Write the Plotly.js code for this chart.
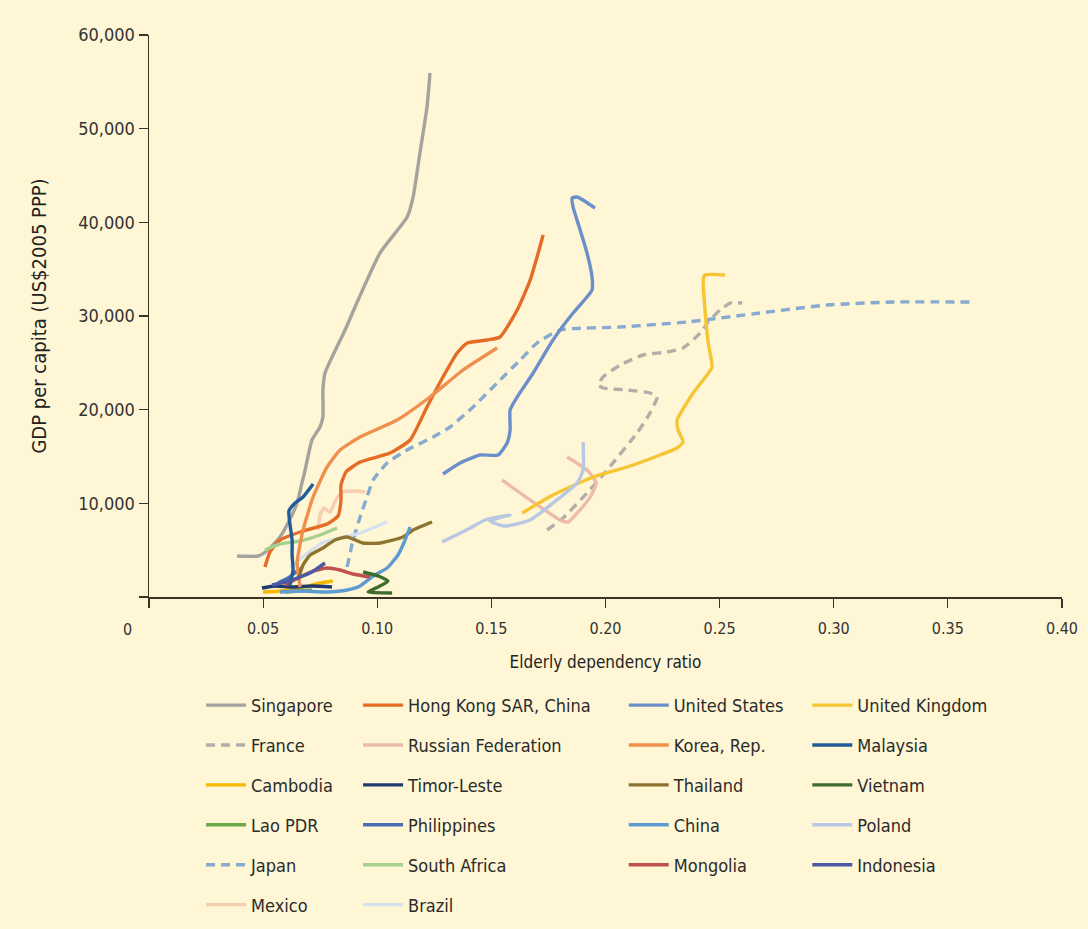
<!DOCTYPE html>
<html><head><meta charset="utf-8">
<script src="https://cdn.plot.ly/plotly-3.0.1.min.js"></script>
<style>html,body{margin:0;padding:0;background:#FEF6D4;}</style>
</head><body><div id="chart" style="width:1088px;height:929px;"></div>
<script>
// ---- data ----
const singaporeX = [0.0386,0.0478,0.0521,0.0574,0.0609,0.0649,0.0670,0.0684,0.0714,0.0749,0.0762,0.0762,0.0771,0.0802,0.0859,0.0916,0.1012,0.1131,0.1157,0.1187,0.1218,0.1231];
const singaporeY = [4377,4377,5018,6406,7900,10035,12171,13559,16761,18149,19217,22099,23914,25622,28505,31708,36725,40569,42704,47401,52312,55942];
const hongkongX = [0.0508,0.0530,0.0574,0.0675,0.0780,0.0828,0.0841,0.0841,0.0863,0.0925,0.1056,0.1144,0.1218,0.1288,0.1350,0.1394,0.1481,0.1538,0.1613,0.1670,0.1727];
const hongkongY = [3203,4804,6085,7046,7793,8648,10356,11957,13345,14413,15373,16761,20284,23487,26049,27117,27437,27758,30640,33843,38647];
const usX = [0.1288,0.1363,0.1450,0.1529,0.1569,0.1582,0.1582,0.1613,0.1683,0.1770,0.1858,0.1919,0.1941,0.1941,0.1919,0.1889,0.1858,0.1854,0.1876,0.1954];
const usY = [13131,14306,15160,15160,16441,17829,19964,21352,23914,27437,30320,32028,32775,34163,36725,39181,41636,42597,42704,41529];
const ukX = [0.1635,0.1770,0.1946,0.2095,0.2239,0.2314,0.2340,0.2318,0.2314,0.2384,0.2445,0.2467,0.2450,0.2436,0.2428,0.2436,0.2524];
const ukY = [8968,10890,12811,13879,15160,15907,16548,17829,18897,21779,23701,24555,27117,30640,33843,34377,34377];
const franceX = [0.1744,0.1814,0.1919,0.2007,0.2138,0.2195,0.2226,0.2195,0.2095,0.1989,0.1968,0.1989,0.2064,0.2165,0.2270,0.2340,0.2415,0.2450,0.2502,0.2546,0.2599];
const franceY = [7153,8434,11103,13559,17509,19644,21352,21779,22099,22313,22633,23487,24768,25836,26156,26583,28185,29359,30640,31387,31387];
const russiaX = [0.1547,0.1670,0.1801,0.1836,0.1880,0.1933,0.1959,0.1924,0.1832];
const russiaY = [12491,10356,8221,8007,9075,10676,12171,13452,14946];
const koreaX = [0.0662,0.0649,0.0675,0.0719,0.0780,0.0837,0.0925,0.1087,0.1231,0.1376,0.1525];
const koreaY = [1068,3630,7153,10676,13879,15694,17082,18897,21352,24235,26583];
const malaysiaX = [0.0618,0.0631,0.0627,0.0627,0.0618,0.0613,0.0640,0.0675,0.0719];
const malaysiaY = [1281,2883,4484,6085,7687,9181,10035,10676,12064];
const cambodiaX = [0.0500,0.0574,0.0662,0.0749,0.0806];
const cambodiaY = [534,641,961,1495,1708];
const timorX = [0.0495,0.0552,0.0627,0.0714,0.0802];
const timorY = [961,1174,1068,1174,1068];
const thailandX = [0.0653,0.0675,0.0706,0.0762,0.0815,0.0868,0.0938,0.1012,0.1113,0.1157,0.1240];
const thailandY = [1815,3416,4484,5231,6085,6406,5765,5765,6406,7153,8007];
const vietnamX = [0.1065,0.0960,0.1004,0.1047,0.1004,0.0938];
const vietnamY = [427,534,1068,1708,2242,2669];
const laoX = [0.0596,0.0662,0.0714];
const laoY = [534,641,747];
const philippinesX = [0.0565,0.0609,0.0644,0.0670];
const philippinesY = [1495,2028,2669,3096];
const chinaX = [0.0574,0.0662,0.0780,0.0868,0.0925,0.0982,0.1043,0.1091,0.1122,0.1144];
const chinaY = [534,641,534,747,1174,2242,3096,4484,6085,7473];
const polandX = [0.1284,0.1407,0.1472,0.1582,0.1494,0.1560,0.1670,0.1770,0.1876,0.1902,0.1902];
const polandY = [5872,7366,8221,8754,8114,7580,8221,10035,12171,13559,16548];
const japanX = [0.0868,0.0894,0.0925,0.0955,0.0982,0.1043,0.1131,0.1245,0.1319,0.1420,0.1525,0.1626,0.1700,0.1801,0.2064,0.2358,0.2677,0.2971,0.3260,0.3611];
const japanY = [3203,6085,8541,10676,12491,14306,15694,17082,18149,20284,22847,25302,27117,28505,28825,29359,30320,31174,31494,31494];
const southAfricaX = [0.0508,0.0574,0.0662,0.0749,0.0824];
const southAfricaY = [5018,5658,5979,6619,7366];
const mongoliaX = [0.0596,0.0662,0.0719,0.0780,0.0837,0.0894,0.0968];
const mongoliaY = [1281,2135,2776,3096,2883,2455,2135];
const indonesiaX = [0.0539,0.0596,0.0662,0.0714,0.0771];
const indonesiaY = [1281,1601,2135,2669,3630];
const mexicoX = [0.0741,0.0749,0.0767,0.0793,0.0819,0.0846,0.0903,0.0947];
const mexicoY = [7153,8754,9502,9075,10356,11210,11317,11210];
const brazilX = [0.0618,0.0684,0.0758,0.0837,0.0925,0.1043];
const brazilY = [3203,4484,5765,6299,6833,8007];

const xTickVals = [0,0.05,0.10,0.15,0.20,0.25,0.30,0.35,0.40];
const xTickText = ["","0.05","0.10","0.15","0.20","0.25","0.30","0.35","0.40"];
const yTickVals = [0,10000,20000,30000,40000,50000,60000];
const yTickText = ["","10,000","20,000","30,000","40,000","50,000","60,000"];

// ---- series definitions (name, data, colour, dash, legend column) ----
const series = [
  ["Singapore", singaporeX, singaporeY, "#A4A39E", "solid", "legend"],
  ["France", franceX, franceY, "#B3AFA8", "9px,6px", "legend"],
  ["Cambodia", cambodiaX, cambodiaY, "#F5B800", "solid", "legend"],
  ["Lao PDR", laoX, laoY, "#6EA846", "solid", "legend"],
  ["Japan", japanX, japanY, "#86AAD0", "9px,6px", "legend"],
  ["Mexico", mexicoX, mexicoY, "#F7CDB0", "solid", "legend"],
  ["Hong Kong SAR, China", hongkongX, hongkongY, "#E46C26", "solid", "legend2"],
  ["Russian Federation", russiaX, russiaY, "#EDBBAA", "solid", "legend2"],
  ["Timor-Leste", timorX, timorY, "#223A6E", "solid", "legend2"],
  ["Philippines", philippinesX, philippinesY, "#4A6DB5", "solid", "legend2"],
  ["South Africa", southAfricaX, southAfricaY, "#A8D08D", "solid", "legend2"],
  ["Brazil", brazilX, brazilY, "#D6E1EF", "solid", "legend2"],
  ["United States", usX, usY, "#6C8FCB", "solid", "legend3"],
  ["Korea, Rep.", koreaX, koreaY, "#F0904E", "solid", "legend3"],
  ["Thailand", thailandX, thailandY, "#8D7530", "solid", "legend3"],
  ["China", chinaX, chinaY, "#5E9BD2", "solid", "legend3"],
  ["Mongolia", mongoliaX, mongoliaY, "#C0504D", "solid", "legend3"],
  ["United Kingdom", ukX, ukY, "#F6C533", "solid", "legend4"],
  ["Malaysia", malaysiaX, malaysiaY, "#215C98", "solid", "legend4"],
  ["Vietnam", vietnamX, vietnamY, "#3F6B2F", "solid", "legend4"],
  ["Poland", polandX, polandY, "#B8C8E2", "solid", "legend4"],
  ["Indonesia", indonesiaX, indonesiaY, "#4A58A5", "solid", "legend4"]
];

const traces = series.map((s, i) => ({
  type: "scatter", mode: "lines", name: s[0], x: s[1], y: s[2],
  line: {color: s[3], width: 3.4, dash: s[4], shape: "spline", smoothing: 0.5},
  legend: s[5], legendgroup: "g" + i, hoverinfo: "name"
}));

const FONT = "'Liberation Sans Narrow', 'DejaVu Sans Condensed', 'Arial Narrow', sans-serif";
const legendBase = {
  orientation: "v", yanchor: "top", xanchor: "left", y: -0.160,
  bgcolor: "rgba(0,0,0,0)", borderwidth: 0, tracegroupgap: 13.5,
  itemwidth: 40, font: {family: FONT, size: 18, color: "#2b2b2b"}
};

const layout = {
  width: 1088, height: 929,
  paper_bgcolor: "#FEF6D4", plot_bgcolor: "#FEF6D4",
  margin: {l: 149, r: 26, t: 35, b: 332, autoexpand: false},
  font: {family: FONT, size: 15, color: "#333"},
  showlegend: true,
  xaxis: {
    range: [0, 0.40], tickvals: xTickVals, ticktext: xTickText,
    showgrid: false, zeroline: false, showline: true, linecolor: "#3A3428", linewidth: 1.5,
    ticks: "outside", ticklen: 9, tickwidth: 1.2, tickcolor: "#3A3428",
    tickfont: {family: FONT, size: 16, color: "#333"}, ticklabelstandoff: 7,
    title: {text: "Elderly dependency ratio", font: {family: FONT, size: 17, color: "#222"}, standoff: 19}
  },
  yaxis: {
    range: [0, 60000], tickvals: yTickVals, ticktext: yTickText,
    showgrid: false, zeroline: false, showline: true, linecolor: "#3A3428", linewidth: 1.5,
    ticks: "outside", ticklen: 9, tickwidth: 1.2, tickcolor: "#3A3428",
    tickfont: {family: FONT, size: 18, color: "#333"},
    title: {text: "GDP per capita (US$2005 PPP)", font: {family: FONT, size: 20, color: "#222"}, standoff: 26}
  },
  annotations: [{
    x: 0, y: 0, xref: "x", yref: "y", text: "0", showarrow: false,
    xshift: -22, yshift: -32, font: {family: FONT, size: 16, color: "#333"}
  }],
  legend: Object.assign({}, legendBase, {x: 0.057}),
  legend2: Object.assign({}, legendBase, {x: 0.229}),
  legend3: Object.assign({}, legendBase, {x: 0.520}),
  legend4: Object.assign({}, legendBase, {x: 0.721})
};

Plotly.newPlot("chart", traces, layout, {displayModeBar: false, staticPlot: true});
</script></body></html>
